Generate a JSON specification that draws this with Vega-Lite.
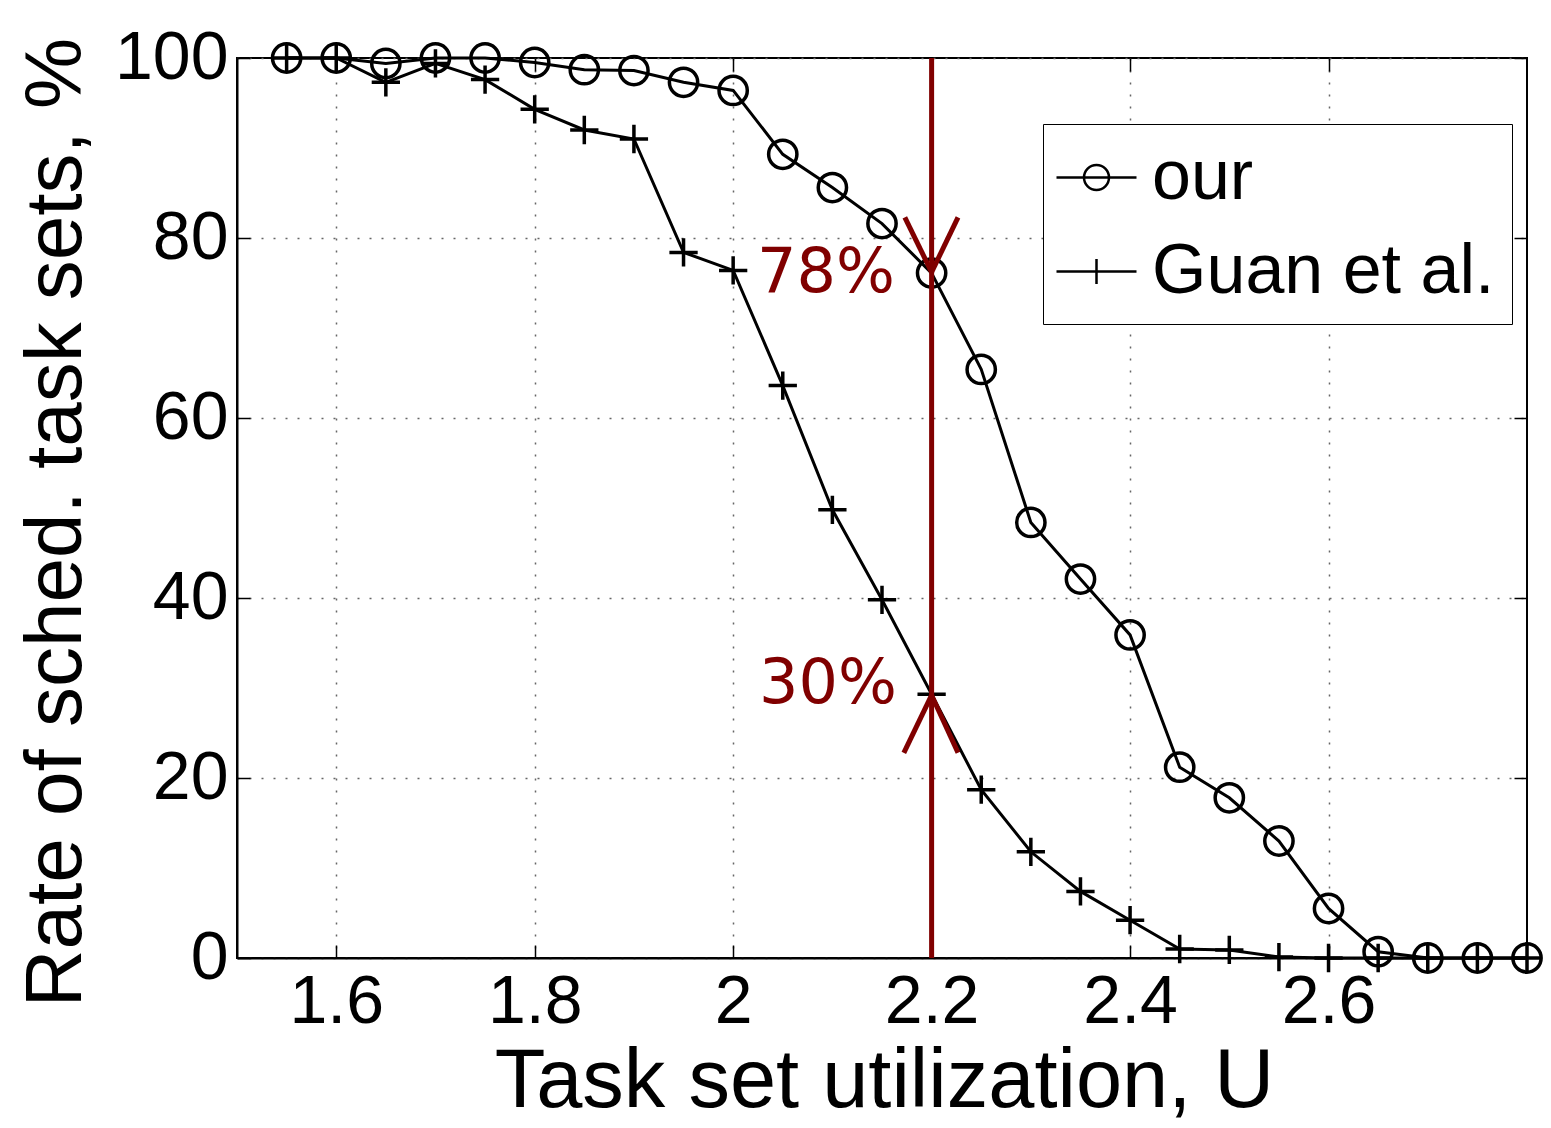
{
  "$schema": "https://vega.github.io/schema/vega-lite/v6.json",
  "width": 1290,
  "height": 900,
  "autosize": {"type": "none"},
  "padding": {"left": 237, "top": 58, "right": 24, "bottom": 170},
  "background": "white",
  "config": {
    "view": {"stroke": "black", "strokeWidth": 2},
    "font": "Liberation Sans",
    "axis": {
      "domainColor": "black",
      "domainWidth": 2,
      "tickColor": "black",
      "tickWidth": 1.5,
      "tickSize": -13,
      "labelColor": "black",
      "titleColor": "black",
      "labelFont": "Liberation Sans",
      "titleFont": "Liberation Sans",
      "titleFontWeight": "normal",
      "labelFontSize": 68,
      "titleFontSize": 80
    }
  },
  "datasets": {
    "curves": [
      {"u": 1.55, "rate": 100, "series": "our"},
      {"u": 1.6, "rate": 100, "series": "our"},
      {"u": 1.65, "rate": 99.4, "series": "our"},
      {"u": 1.7, "rate": 100, "series": "our"},
      {"u": 1.75, "rate": 100, "series": "our"},
      {"u": 1.8, "rate": 99.5, "series": "our"},
      {"u": 1.85, "rate": 98.7, "series": "our"},
      {"u": 1.9, "rate": 98.6, "series": "our"},
      {"u": 1.95, "rate": 97.3, "series": "our"},
      {"u": 2.0, "rate": 96.4, "series": "our"},
      {"u": 2.05, "rate": 89.3, "series": "our"},
      {"u": 2.1, "rate": 85.6, "series": "our"},
      {"u": 2.15, "rate": 81.6, "series": "our"},
      {"u": 2.2, "rate": 76.1, "series": "our"},
      {"u": 2.25, "rate": 65.4, "series": "our"},
      {"u": 2.3, "rate": 48.4, "series": "our"},
      {"u": 2.35, "rate": 42.1, "series": "our"},
      {"u": 2.4, "rate": 35.9, "series": "our"},
      {"u": 2.45, "rate": 21.2, "series": "our"},
      {"u": 2.5, "rate": 17.8, "series": "our"},
      {"u": 2.55, "rate": 13.0, "series": "our"},
      {"u": 2.6, "rate": 5.5, "series": "our"},
      {"u": 2.65, "rate": 0.7, "series": "our"},
      {"u": 2.7, "rate": 0, "series": "our"},
      {"u": 2.75, "rate": 0, "series": "our"},
      {"u": 2.8, "rate": 0, "series": "our"},
      {"u": 1.55, "rate": 100, "series": "Guan et al."},
      {"u": 1.6, "rate": 100, "series": "Guan et al."},
      {"u": 1.65, "rate": 97.3, "series": "Guan et al."},
      {"u": 1.7, "rate": 99.4, "series": "Guan et al."},
      {"u": 1.75, "rate": 97.6, "series": "Guan et al."},
      {"u": 1.8, "rate": 94.3, "series": "Guan et al."},
      {"u": 1.85, "rate": 92.0, "series": "Guan et al."},
      {"u": 1.9, "rate": 91.0, "series": "Guan et al."},
      {"u": 1.95, "rate": 78.4, "series": "Guan et al."},
      {"u": 2.0, "rate": 76.4, "series": "Guan et al."},
      {"u": 2.05, "rate": 63.6, "series": "Guan et al."},
      {"u": 2.1, "rate": 49.8, "series": "Guan et al."},
      {"u": 2.15, "rate": 39.8, "series": "Guan et al."},
      {"u": 2.2, "rate": 29.3, "series": "Guan et al."},
      {"u": 2.25, "rate": 18.7, "series": "Guan et al."},
      {"u": 2.3, "rate": 11.8, "series": "Guan et al."},
      {"u": 2.35, "rate": 7.4, "series": "Guan et al."},
      {"u": 2.4, "rate": 4.2, "series": "Guan et al."},
      {"u": 2.45, "rate": 1.0, "series": "Guan et al."},
      {"u": 2.5, "rate": 0.9, "series": "Guan et al."},
      {"u": 2.55, "rate": 0.1, "series": "Guan et al."},
      {"u": 2.6, "rate": 0, "series": "Guan et al."},
      {"u": 2.65, "rate": 0, "series": "Guan et al."},
      {"u": 2.7, "rate": 0, "series": "Guan et al."},
      {"u": 2.75, "rate": 0, "series": "Guan et al."},
      {"u": 2.8, "rate": 0, "series": "Guan et al."}
    ],
    "marker": [{"u": 2.2, "lo": 0, "hi": 100}],
    "arrows": [
      {"x1": 2.173, "y1": 82.3, "x2": 2.2, "y2": 76.2},
      {"x1": 2.2266, "y1": 82.3, "x2": 2.2, "y2": 76.2},
      {"x1": 2.172, "y1": 22.8, "x2": 2.2, "y2": 29.2},
      {"x1": 2.2266, "y1": 22.8, "x2": 2.2, "y2": 29.2}
    ],
    "labels": [
      {"u": 2.163, "rate": 74.0, "text": "78%"},
      {"u": 2.165, "rate": 28.3, "text": "30%"}
    ]
  },
  "resolve": {"axis": {"x": "independent", "y": "independent"}, "scale": {"shape": "independent"}},
  "layer": [
    {
      "data": {"name": "curves"},
      "mark": {"type": "line", "color": "black", "strokeWidth": 3, "clip": false},
      "encoding": {
        "x": {
          "field": "u", "type": "quantitative",
          "scale": {"domain": [1.5, 2.8], "nice": false, "zero": false},
          "axis": {
            "values": [1.6, 1.8, 2.0, 2.2, 2.4, 2.6],
            "format": "~g",
            "grid": true, "gridDash": [2, 10], "gridColor": "#666666", "gridWidth": 1.5,
            "labelPadding": 23,
            "title": "Task set utilization, U",
            "titleFontSize": 83,
            "titleX": 647, "titleY": 148, "titleBaseline": "alphabetic"
          }
        },
        "y": {
          "field": "rate", "type": "quantitative",
          "scale": {"domain": [0, 100], "nice": false},
          "axis": {
            "values": [0, 20, 40, 60, 80, 100],
            "grid": true, "gridDash": [2, 10], "gridColor": "#666666", "gridWidth": 1.5,
            "labelPadding": 22,
            "title": "Rate of sched. task sets, %",
            "titleX": -157, "titleY": 464, "titleAngle": -90,
            "titleAlign": "center", "titleBaseline": "alphabetic"
          }
        },
        "detail": {"field": "series"}
      }
    },
    {
      "data": {"name": "curves"},
      "mark": {"type": "point", "filled": false, "color": "black", "strokeWidth": 3.5, "size": 800, "opacity": 1, "clip": false},
      "encoding": {
        "x": {"field": "u", "type": "quantitative", "scale": {"domain": [1.5, 2.8], "nice": false, "zero": false}, "axis": null},
        "y": {"field": "rate", "type": "quantitative", "scale": {"domain": [0, 100], "nice": false}, "axis": null},
        "shape": {
          "field": "series", "type": "nominal",
          "scale": {"domain": ["our", "Guan et al."], "range": ["circle", "M-1,0H1M0,-1V1"]},
          "legend": null
        }
      }
    },
    {
      "data": {"values": []},
      "mark": {"type": "point", "filled": false, "color": "black", "strokeWidth": 2.5, "opacity": 1},
      "encoding": {
        "x": {"field": "u", "type": "quantitative", "scale": {"domain": [1.5, 2.8], "nice": false, "zero": false}, "axis": null},
        "y": {"field": "rate", "type": "quantitative", "scale": {"domain": [0, 100], "nice": false}, "axis": null},
        "shape": {
          "field": "series", "type": "nominal",
          "scale": {"domain": ["our", "Guan et al."], "range": ["M-1.143,0H1.143M0.357,0A0.357,0.357 0 1,1 -0.357,0A0.357,0.357 0 1,1 0.357,0", "M-1.143,0H1.143M0,-0.357V0.357"]},
          "legend": {
            "orient": "none", "legendX": 806, "legendY": 66,
            "title": null,
            "strokeColor": "black", "fillColor": "white",
            "padding": 17,
            "symbolSize": 4900, "symbolStrokeWidth": 2.5, "symbolStrokeColor": "black", "symbolOpacity": 1,
            "labelFont": "Liberation Sans", "labelFontSize": 70, "labelColor": "black",
            "labelOffset": 19, "labelLimit": 700, "rowPadding": 22,
            "encode": {
              "legend": {"update": {"strokeWidth": {"value": 2}}}
            }
          }
        }
      }
    },
    {
      "data": {"name": "marker"},
      "mark": {"type": "rule", "color": "#800000", "strokeWidth": 5},
      "encoding": {
        "x": {
          "field": "u", "type": "quantitative",
          "scale": {"domain": [1.5, 2.8], "nice": false, "zero": false},
          "axis": {"orient": "top", "values": [1.6, 1.8, 2.0, 2.2, 2.4, 2.6], "labels": false, "domain": false, "grid": false, "title": null}
        },
        "y": {
          "field": "lo", "type": "quantitative",
          "scale": {"domain": [0, 100], "nice": false},
          "axis": {"orient": "right", "values": [0, 20, 40, 60, 80, 100], "labels": false, "domain": false, "grid": false, "title": null}
        },
        "y2": {"field": "hi"}
      }
    },
    {
      "data": {"name": "arrows"},
      "mark": {"type": "rule", "color": "#800000", "strokeWidth": 5, "strokeCap": "butt"},
      "encoding": {
        "x": {"field": "x1", "type": "quantitative", "scale": {"domain": [1.5, 2.8], "nice": false, "zero": false}, "axis": null},
        "y": {"field": "y1", "type": "quantitative", "scale": {"domain": [0, 100], "nice": false}, "axis": null},
        "x2": {"field": "x2"},
        "y2": {"field": "y2"}
      }
    },
    {
      "data": {"name": "labels"},
      "mark": {"type": "text", "color": "#800000", "font": "DejaVu Sans", "fontSize": 62, "align": "right", "baseline": "alphabetic"},
      "encoding": {
        "x": {"field": "u", "type": "quantitative", "scale": {"domain": [1.5, 2.8], "nice": false, "zero": false}, "axis": null},
        "y": {"field": "rate", "type": "quantitative", "scale": {"domain": [0, 100], "nice": false}, "axis": null},
        "text": {"field": "text"}
      }
    }
  ]
}
